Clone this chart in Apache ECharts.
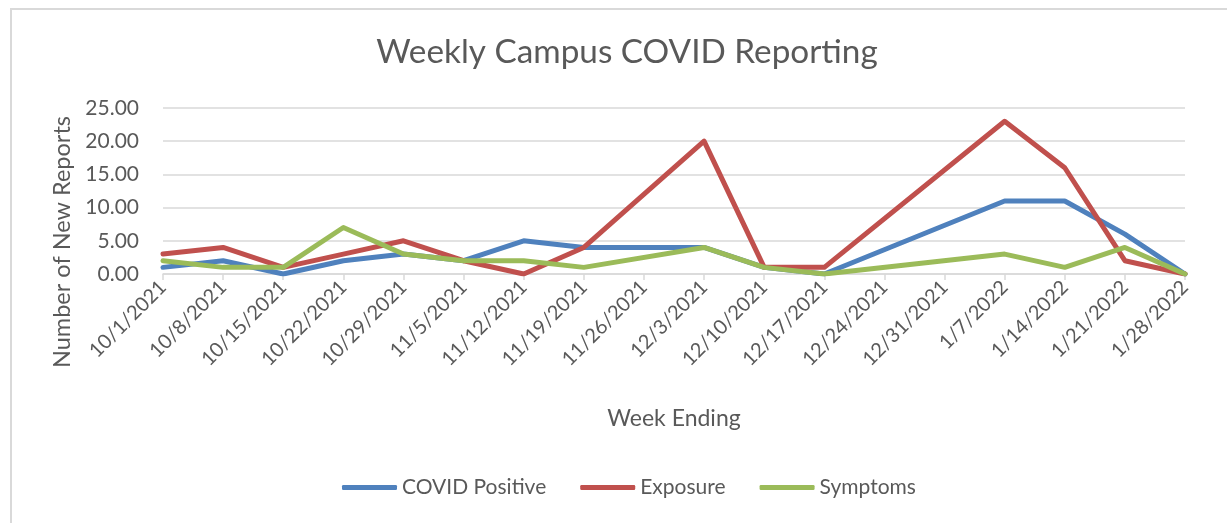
<!DOCTYPE html>
<html>
<head>
<meta charset="utf-8">
<script src="https://cdn.jsdelivr.net/npm/echarts@6/dist/echarts.min.js"></script>
<style>
  html, body { margin: 0; padding: 0; background: #fff; overflow: hidden; }
  #frame { position: absolute; left: 10px; top: 8px; width: 1400px; height: 700px; border-left: 2px solid #d9d9d9; border-top: 2px solid #d9d9d9; }
  #chart { position: absolute; left: 0; top: 0; width: 1227px; height: 523px; }
</style>
</head>
<body>
<div id="frame"></div>
<div id="chart"></div>
<script>
const weeks = ['10/1/2021','10/8/2021','10/15/2021','10/22/2021','10/29/2021','11/5/2021','11/12/2021','11/19/2021','11/26/2021','12/3/2021','12/10/2021','12/17/2021','12/24/2021','12/31/2021','1/7/2022','1/14/2022','1/21/2022','1/28/2022'];
const covidPositive = [1, 2, 0, 2, 3, 2, 5, 4, null, 4, 1, 0, null, null, 11, 11, 6, 0];
const exposure      = [3, 4, 1, 3, 5, 2, 0, 4, null, 20, 1, 1, null, null, 23, 16, 2, 0];
const symptoms      = [2, 1, 1, 7, 3, 2, 2, 1, null, 4, 1, 0, null, null, 3, 1, 4, 0];
const yTicks = [0, 5, 10, 15, 20, 25];

const FONT = 'Lato';
const TXT = '#595959';
const chart = echarts.init(document.getElementById('chart'), null, { renderer: 'canvas' });
function line(name, data, color) {
  return {
    name, type: 'line', data, connectNulls: true, symbol: 'none', showSymbol: false,
    lineStyle: { width: 5, color, cap: 'round', join: 'round' }, itemStyle: { color },
    emphasis: { disabled: true }, animation: false
  };
}
chart.setOption({
  backgroundColor: 'transparent',
  animation: false,
  title: {
    text: 'Weekly Campus COVID Reporting', left: 622, textAlign: 'center', top: 31,
    textStyle: { fontFamily: FONT, fontSize: 33.3, fontWeight: 'normal', color: TXT }
  },
  legend: {
    bottom: 20, left: 337, itemWidth: 55, itemHeight: 5, itemGap: 34,
    icon: 'roundRect',
    textStyle: { fontFamily: FONT, fontSize: 21, color: TXT },
    data: ['COVID Positive', 'Exposure', 'Symptoms']
  },
  grid: { left: 163, right: 42, top: 108, bottom: 249, containLabel: false },
  xAxis: {
    type: 'category', data: weeks, boundaryGap: false,
    name: 'Week Ending', nameLocation: 'middle', nameGap: 133,
    nameTextStyle: { fontFamily: FONT, fontSize: 23, color: TXT },
    axisLine: { lineStyle: { color: '#d9d9d9', width: 1.5 } },
    axisTick: { show: true, alignWithLabel: true, length: 6, lineStyle: { color: '#d9d9d9', width: 1.5 } },
    axisLabel: { rotate: 45, interval: 0, margin: 10, fontFamily: FONT, fontSize: 20, color: TXT }
  },
  yAxis: {
    type: 'value', min: yTicks[0], max: yTicks[yTicks.length - 1], interval: 5,
    name: 'Number of New Reports', nameLocation: 'middle', nameGap: 88, nameRotate: 90,
    nameTextStyle: { fontFamily: FONT, fontSize: 23.5, color: TXT, padding: [0, 102, 0, 0] },
    axisLine: { show: false }, axisTick: { show: false },
    splitLine: { lineStyle: { color: '#d9d9d9', width: 1.5 } },
    axisLabel: { margin: 24, fontFamily: FONT, fontSize: 21, color: TXT, formatter: v => v.toFixed(2) }
  },
  series: [
    line('COVID Positive', covidPositive, '#4F81BD'),
    line('Exposure', exposure, '#C0504D'),
    line('Symptoms', symptoms, '#9BBB59')
  ]
});
</script>
</body>
</html>
